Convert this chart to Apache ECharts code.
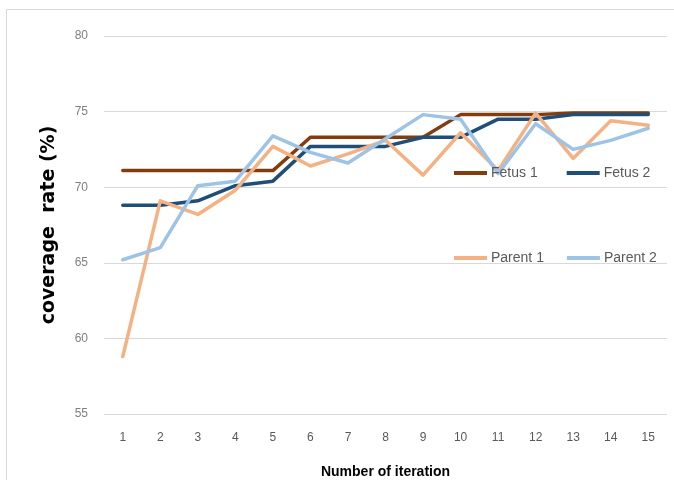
<!DOCTYPE html>
<html>
<head>
<meta charset="utf-8">
<script src="https://cdn.jsdelivr.net/npm/echarts@6/dist/echarts.min.js"></script>
<style>
  html, body { margin: 0; padding: 0; background: #ffffff; }
  #chart { width: 674px; height: 480px; }
</style>
</head>
<body>
<div id="chart"></div>
<script>
// Iteration numbers along the x axis
const iterations = ['1','2','3','4','5','6','7','8','9','10','11','12','13','14','15'];

// Coverage rate (%) per iteration
const fetus1  = [71.1, 71.1, 71.1, 71.1, 71.1, 73.3, 73.3, 73.3, 73.3, 74.8, 74.8, 74.8, 74.9, 74.9, 74.9];
const fetus2  = [68.8, 68.8, 69.1, 70.1, 70.4, 72.7, 72.7, 72.7, 73.3, 73.3, 74.5, 74.5, 74.8, 74.8, 74.8];
const parent1 = [58.8, 69.1, 68.2, 69.8, 72.7, 71.4, 72.2, 73.1, 70.8, 73.6, 71.1, 74.9, 71.9, 74.4, 74.1];
const parent2 = [65.2, 66.0, 70.1, 70.4, 73.4, 72.3, 71.6, 73.2, 74.8, 74.5, 70.9, 74.2, 72.5, 73.1, 73.9];

// Y axis ticks
const yTicks = [55, 60, 65, 70, 75, 80];

const colors = {
  fetus1: '#843c0c',
  fetus2: '#1f4e79',
  parent1: '#f4b183',
  parent2: '#9dc3e6'
};

const chart = echarts.init(document.getElementById('chart'), null, { renderer: 'canvas' });

function lineSeries(name, data, color) {
  return {
    name: name,
    type: 'line',
    data: data,
    symbol: 'none',
    smooth: false,
    lineStyle: { color: color, width: 3.5, cap: 'round', join: 'round' },
    itemStyle: { color: color },
    emphasis: { disabled: true },
    z: 3
  };
}

const legendText = {
  color: '#595959',
  fontSize: 14,
  fontFamily: 'Liberation Sans, Arial, sans-serif',
  padding: [0, 0, 0, -1]
};

const legendCommon = {
  icon: 'path://M0,0 L30,0 L30,3.5 L0,3.5 Z',
  itemWidth: 33,
  itemHeight: 4,
  textStyle: legendText
};

chart.setOption({
  animation: false,
  backgroundColor: '#ffffff',
  graphic: [{
    type: 'rect',
    shape: { x: 6.5, y: 9.5, width: 700, height: 500 },
    style: { fill: 'none', stroke: '#d9d9d9', lineWidth: 1 },
    silent: true,
    z: -10
  }],
  grid: { left: 104, right: 7, top: 36, bottom: 66, containLabel: false, outerBoundsMode: 'none' },
  legend: [
    Object.assign({}, legendCommon, {
      data: ['Fetus 1', 'Fetus 2'],
      itemGap: 29,
      left: 449, top: 161
    }),
    Object.assign({}, legendCommon, {
      data: ['Parent 1', 'Parent 2'],
      itemGap: 23,
      left: 449, top: 246
    })
  ],
  xAxis: {
    type: 'category',
    data: iterations,
    boundaryGap: true,
    name: 'Number of iteration',
    nameLocation: 'middle',
    nameGap: 51,
    nameTextStyle: { color: '#000000', fontSize: 14, fontWeight: 'bold', fontFamily: 'Liberation Sans, Arial, sans-serif' },
    axisLine: { show: false },
    axisTick: { show: false },
    axisLabel: { color: '#595959', fontSize: 12, margin: 18, fontFamily: 'Liberation Sans, Arial, sans-serif' },
    splitLine: { show: false }
  },
  yAxis: {
    type: 'value',
    min: yTicks[0],
    max: yTicks[yTicks.length - 1],
    interval: 5,
    name: 'coverage  rate (%)',
    nameLocation: 'middle',
    nameGap: 45,
    nameRotate: 90,
    nameTextStyle: { color: '#000000', fontSize: 19, fontWeight: 'bold', fontFamily: 'DejaVu Sans, sans-serif' },
    axisLine: { show: false },
    axisTick: { show: false },
    axisLabel: { color: '#7f7f7f', fontSize: 12, margin: 16, fontFamily: 'Liberation Sans, Arial, sans-serif' },
    splitLine: { show: true, lineStyle: { color: '#d9d9d9', width: 1.2 } }
  },
  series: [
    lineSeries('Fetus 1', fetus1, colors.fetus1),
    lineSeries('Fetus 2', fetus2, colors.fetus2),
    lineSeries('Parent 1', parent1, colors.parent1),
    lineSeries('Parent 2', parent2, colors.parent2)
  ]
});
</script>
</body>
</html>
